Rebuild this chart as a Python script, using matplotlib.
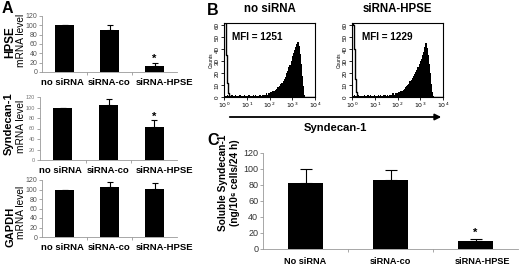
import matplotlib
matplotlib.use("Agg")
import matplotlib.pyplot as plt
import numpy as np

plt.rcParams['font.family'] = ['Liberation Sans', 'DejaVu Sans']

W, H = 520, 268

# panel A: relative mRNA levels
groups_a = ["no siRNA", "siRNA-co", "siRNA-HPSE"]
hpse_mrna = [100, 91, 12]
hpse_err = [0, 10, 7]
sdc1_mrna = [100, 105, 62]
sdc1_err = [0, 12, 14]
gapdh_mrna = [100, 106, 101]
gapdh_err = [0, 9, 12]

# panel C: soluble syndecan-1
groups_c = ["No siRNA", "siRNA-co", "siRNA-HPSE"]
soluble_sdc1 = [83, 86, 10]
soluble_err = [17, 13, 3]

# panel B: flow cytometry histograms (log10 bins, step 0.05)
log_bins = np.arange(81) * 0.05
counts_no = [2,1,1,2,1,1,1,2,1,1,2,1,1,1,2,1,1,1,2,1,1,
             1,2,1,1,1,2,1,2,1,1,2,2,1,2,2,2,3,2,3,3,
             4,4,5,5,6,7,8,8,9,11,12,13,15,17,20,22,25,27,30,34,
             37,39,42,44,46,43,36,28,18,9,2,0,0,0,0,0,0,0,0,0]
counts_hpse = [1,1,2,1,1,1,2,1,1,1,1,2,1,1,2,1,2,1,1,1,2,
               1,1,2,1,2,1,1,2,2,1,2,1,2,2,2,3,2,3,3,3,
               4,4,5,5,6,7,8,9,10,11,13,14,16,18,19,21,23,25,28,30,
               32,35,38,42,45,41,35,28,20,11,4,1,0,0,0,0,0,0,0,0]
iso_no = [70,62,35,12,3,1] + [0] * 75
iso_hpse = [70,60,40,15,4,1] + [0] * 75
mfi = [1251, 1229]
flow_titles = ["no siRNA", "siRNA-HPSE"]

fig = plt.figure(figsize=(W / 100, H / 100), dpi=100)


def add_ax(left, top, right, bottom):
    return fig.add_axes([left / W, 1 - bottom / H, (right - left) / W, (bottom - top) / H])


def bar_panel(ax, labels, label_pos, vals, errs, star, tick_fs, lab_fs, tick_col, cap, star_off):
    x = np.arange(len(vals))
    ax.bar(x, vals, width=0.42, color='black')
    ax.errorbar(x, vals, yerr=[np.zeros(len(errs)), errs], fmt='none',
                ecolor='black', elinewidth=0.8, capsize=cap, capthick=0.8)
    if star:
        ax.text(2, vals[2] + errs[2] + star_off, '*', ha='center', va='center',
                fontsize=8, fontweight='bold')
    ax.set_xlim(-0.5, 2.5)
    ax.set_ylim(0, 120)
    ax.set_yticks(range(0, 121, 20))
    ax.set_xticks(label_pos)
    ax.set_xticklabels(labels, fontsize=lab_fs, fontweight='bold')
    ax.set_xticks([0.5, 1.5], minor=True)
    ax.tick_params(axis='x', which='major', length=0, pad=4)
    ax.tick_params(axis='x', which='minor', length=2, color='#999999')
    ax.tick_params(axis='y', length=2, width=0.6, color='#999999',
                   labelsize=tick_fs, labelcolor=tick_col, pad=1.5)
    for s in ['top', 'right']:
        ax.spines[s].set_visible(False)
    for s in ['left', 'bottom']:
        ax.spines[s].set_color('#999999')
        ax.spines[s].set_linewidth(0.6)


pos_a = [-0.05, 1.0, 2.23]
a1 = add_ax(42, 16, 177, 72)
bar_panel(a1, groups_a, pos_a, hpse_mrna, hpse_err, True, 5, 6.8, '#555555', 2.5, 9)
a2 = add_ax(40, 97, 177, 160)
bar_panel(a2, groups_a, pos_a, sdc1_mrna, sdc1_err, True, 4, 6.8, '#777777', 2.5, 7)
a3 = add_ax(42, 180, 177, 237)
bar_panel(a3, groups_a, pos_a, gapdh_mrna, gapdh_err, False, 5, 6.8, '#555555', 2.5, 0)

c = add_ax(263, 153, 518, 249)
bar_panel(c, groups_c, [0, 1, 2.08], soluble_sdc1, soluble_err, True, 6.5, 6.6, '#333333', 4, 7)
c.tick_params(axis='x', which='major', pad=6)

# flow histograms
for k, (left, counts, iso) in enumerate([(224, counts_no, iso_no), (352, counts_hpse, iso_hpse)]):
    ax = add_ax(left, 23, left + 91, 97)
    xv = 10 ** log_bins
    ax.fill_between(xv, counts, step='mid', color='black', lw=0)
    ax.plot(xv, iso, drawstyle='steps-mid', color='black', lw=1.0)
    ax.set_xscale('log')
    ax.set_xlim(1, 1e4)
    ax.set_xticks([1, 10, 100, 1000, 10000])
    ax.set_xticklabels(['$10^{%d}$' % d for d in range(5)])
    ax.set_ylim(0, 62)
    ax.set_yticks(range(0, 61, 10))
    ax.set_yticklabels([str(v) for v in range(0, 61, 10)], rotation=90, va='center')
    ax.tick_params(axis='both', which='major', labelsize=4.5, length=2, width=0.6, pad=1)
    ax.tick_params(axis='x', which='minor', length=1.2, width=0.4)
    ax.set_ylabel('Counts', fontsize=3.5, labelpad=1)
    for s in ax.spines.values():
        s.set_linewidth(0.8)

# overlay for labels in pixel coordinates
ov = fig.add_axes([0, 0, 1, 1])
ov.set_xlim(0, W)
ov.set_ylim(H, 0)
ov.axis('off')

for letter, xx, yy in [('A', 2, 13), ('B', 207, 15), ('C', 207, 145)]:
    ov.text(xx, yy, letter, fontsize=11.5, fontweight='bold', va='baseline')

ylabs = [('HPSE', 10, 42, 8.5), ('Syndecan-1', 9, 124, 8), ('GAPDH', 11, 227, 8)]
for txt, xx, yy, fs in ylabs:
    ov.text(xx, yy, txt, rotation=90, fontsize=fs, fontweight='bold', ha='center', va='center')
for xx, yy in [(21, 40), (21, 126), (21, 212)]:
    ov.text(xx, yy, 'mRNA level', rotation=90, fontsize=7.3, ha='center', va='center')

ov.text(223, 183, 'Soluble Syndecan-1', rotation=90, fontsize=7.3, fontweight='bold',
        ha='center', va='center')
ov.text(235, 183, '(ng/10\u2076 cells/24 h)', rotation=90, fontsize=7.3, fontweight='bold',
        ha='center', va='center')

for xx, t in zip([270, 397], flow_titles):
    ov.text(xx, 12, t, fontsize=8.3, fontweight='bold', ha='center', va='baseline')
for xx, m in zip([232, 362], mfi):
    ov.text(xx, 40, 'MFI = %d' % m, fontsize=7.2, fontweight='bold', va='baseline')

ov.annotate('', xy=(444, 117), xytext=(227, 117),
            arrowprops=dict(arrowstyle='-|>', color='black', lw=1.3, mutation_scale=9))
ov.text(335, 131, 'Syndecan-1', fontsize=8.1, fontweight='bold', ha='center', va='baseline')

fig.savefig('out.png', dpi=100)
